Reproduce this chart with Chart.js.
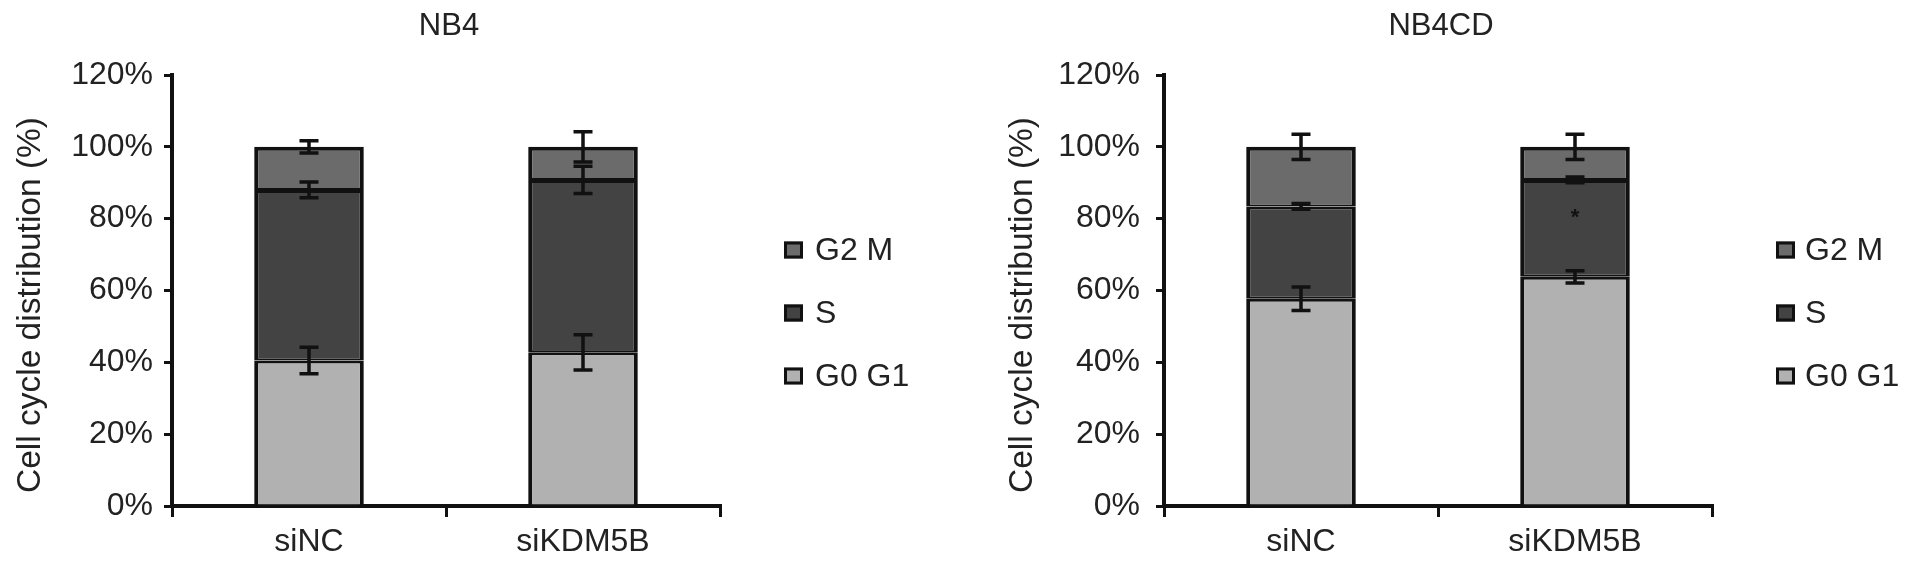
<!DOCTYPE html>
<html><head><meta charset="utf-8">
<script src="https://cdn.jsdelivr.net/npm/chart.js@4.4.1/dist/chart.umd.min.js"></script>
<style>
html,body{margin:0;padding:0;background:#fff;width:1913px;height:577px;overflow:hidden}
canvas{position:absolute;top:0}
</style></head><body>
<canvas id="c1" width="960" height="577" style="left:0;width:960px;height:577px"></canvas>
<canvas id="c2" width="953" height="577" style="left:960px;width:953px;height:577px"></canvas>
<script>
// ---- data ----
const categories = ['siNC', 'siKDM5B'];
const seriesNames = ['G0 G1', 'S', 'G2 M'];
const yTickValues = [0, 20, 40, 60, 80, 100, 120];
const yAxisTitle = 'Cell cycle distribution (%)';

const nb4G0G1 = [40.5, 42.8];
const nb4S = [47.5, 48.0];
const nb4G2M = [12.0, 9.2];
const nb4ErrG0G1 = [3.7, 4.9];
const nb4ErrS = [2.2, 3.8];
const nb4ErrG2M = [1.7, 4.2];

const nb4cdG0G1 = [57.7, 63.8];
const nb4cdS = [25.7, 27.0];
const nb4cdG2M = [16.6, 9.2];
const nb4cdErrG0G1 = [3.3, 1.7];
const nb4cdErrS = [0.8, 0.8];
const nb4cdErrG2M = [3.5, 3.5];
const nb4cdStar = [null, 81.7];

// ---- style ----
const FONT = "'Liberation Sans', Arial, Helvetica, sans-serif";
const colors = ['#b1b1b1', '#434343', '#6b6b6b'];
const INK = '#111';
const TXT = '#222';

const overlay = {
  id: 'overlay',
  afterDatasetsDraw(chart, args, o) {
    const ctx = chart.ctx, ys = chart.scales.y;
    ctx.save();
    ctx.strokeStyle = INK; ctx.lineWidth = 3.5; ctx.lineCap = 'butt';
    chart.data.datasets.forEach((ds, di) => {
      const meta = chart.getDatasetMeta(di);
      meta.data.forEach((bar, j) => {
        let cum = 0;
        for (let k = 0; k <= di; k++) cum += chart.data.datasets[k].data[j];
        const e = ds.errors[j];
        const yt = ys.getPixelForValue(cum + e), yb = ys.getPixelForValue(cum - e);
        const x = bar.x, cw = 9.5;
        ctx.beginPath();
        ctx.moveTo(x, yt); ctx.lineTo(x, yb);
        ctx.moveTo(x - cw, yt); ctx.lineTo(x + cw, yt);
        ctx.moveTo(x - cw, yb); ctx.lineTo(x + cw, yb);
        ctx.stroke();
      });
    });
    // asterisks
    if (o.star) {
      const meta = chart.getDatasetMeta(1);
      ctx.fillStyle = '#111';
      ctx.font = 'bold 22px ' + FONT;
      ctx.textAlign = 'center'; ctx.textBaseline = 'middle';
      o.star.forEach((v, j) => {
        if (v == null) return;
        ctx.fillText('*', meta.data[j].x, ys.getPixelForValue(v) + 5);
      });
    }
    ctx.restore();
  },
  afterDraw(chart, args, o) {
    const ctx = chart.ctx, a = chart.chartArea;
    ctx.save();
    ctx.fillStyle = TXT;
    // title
    ctx.font = '31px ' + FONT;
    ctx.textAlign = 'center'; ctx.textBaseline = 'middle';
    ctx.fillText(o.title, (a.left + a.right) / 2 + 3, 26);
    // y title
    ctx.save();
    ctx.translate(a.left - o.yTitleOffset, 305);
    ctx.rotate(-Math.PI / 2);
    ctx.font = '33.5px ' + FONT;
    ctx.fillText(yAxisTitle, 0, 0);
    ctx.restore();
    // legend (reversed order)
    const ds = chart.data.datasets;
    for (let i = ds.length - 1, r = 0; i >= 0; i--, r++) {
      const cy = a.top + 175 + r * 63;
      const bx = a.right + 64;
      ctx.fillStyle = ds[i].backgroundColor;
      ctx.fillRect(bx, cy - 8.5, 19, 17);
      ctx.strokeStyle = INK; ctx.lineWidth = 3;
      ctx.strokeRect(bx + 1.5, cy - 7, 16, 14);
      ctx.fillStyle = TXT;
      ctx.font = '32px ' + FONT;
      ctx.textAlign = 'left'; ctx.textBaseline = 'middle';
      ctx.fillText(ds[i].label, a.right + o.legendTextOffset, cy + 1);
    }
    ctx.restore();
  }
};

function makeChart(id, title, g0, s, g2, e0, es, e2, star, p) {
  const bw = [
    {top: 3, bottom: 0, left: 4, right: 4},
    {top: 3, bottom: 2, left: 4, right: 4},
    {top: 4, bottom: 2, left: 4, right: 4}
  ];
  const vals = [g0, s, g2], errs = [e0, es, e2];
  return new Chart(document.getElementById(id), {
    type: 'bar',
    data: {
      labels: categories,
      datasets: seriesNames.map((n, i) => ({
        label: n,
        data: vals[i],
        errors: errs[i],
        backgroundColor: colors[i],
        borderColor: INK,
        borderWidth: bw[i],
        borderSkipped: false,
        categoryPercentage: 1.0,
        barPercentage: 0.4
      }))
    },
    plugins: [overlay],
    options: {
      responsive: false,
      animation: false,
      devicePixelRatio: 1,
      layout: {padding: {left: 0, top: 75, right: p.padRight, bottom: 0}},
      plugins: {
        legend: {display: false},
        title: {display: false},
        tooltip: {enabled: false},
        overlay: {title: title, star: star, yTitleOffset: 141, legendTextOffset: p.legendText}
      },
      scales: {
        x: {
          stacked: true,
          offset: true,
          afterFit: sc => { sc.height = 71; },
          grid: {display: true, drawOnChartArea: false, drawTicks: true, tickLength: 11, color: INK, lineWidth: 3, offset: true},
          border: {display: true, color: INK, width: 4},
          ticks: {color: TXT, font: {family: FONT, size: 32}, padding: 6}
        },
        y: {
          stacked: true,
          min: 0, max: 120,
          afterFit: sc => { sc.width = p.axisLeft; },
          afterBuildTicks: sc => { sc.ticks = yTickValues.map(v => ({value: v})); },
          grid: {display: true, drawOnChartArea: false, drawTicks: true, tickLength: 8, color: INK, lineWidth: 3},
          border: {display: true, color: INK, width: 4},
          ticks: {color: TXT, font: {family: FONT, size: 32}, padding: p.tickPad, callback: v => v + '%'}
        }
      }
    }
  });
}

makeChart('c1', 'NB4', nb4G0G1, nb4S, nb4G2M, nb4ErrG0G1, nb4ErrS, nb4ErrG2M, null,
  {padRight: 240, axisLeft: 172, tickPad: 11, legendText: 95});
makeChart('c2', 'NB4CD', nb4cdG0G1, nb4cdS, nb4cdG2M, nb4cdErrG0G1, nb4cdErrS, nb4cdErrG2M, nb4cdStar,
  {padRight: 201, axisLeft: 204, tickPad: 16, legendText: 93});
</script>
</body></html>
